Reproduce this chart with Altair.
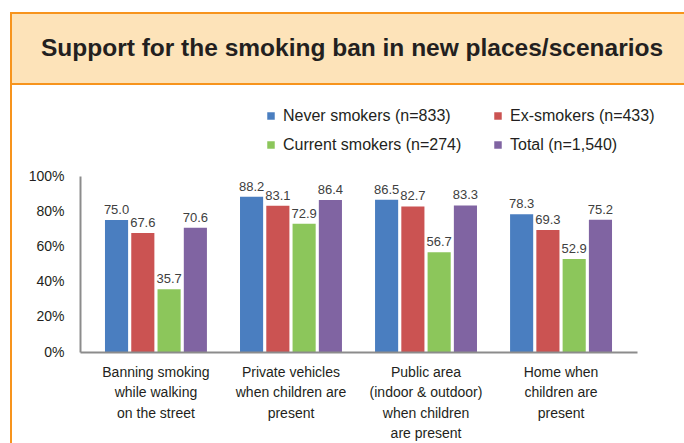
import altair as alt
import pandas as pd

categories = [
    "Banning smoking|while walking|on the street",
    "Private vehicles|when children are|present",
    "Public area|(indoor & outdoor)|when children|are present",
    "Home when|children are|present",
]
groups = ["Never smokers (n=833)", "Ex-smokers (n=433)", "Current smokers (n=274)", "Total (n=1,540)"]
colors = ["#4A7EC0", "#CB5352", "#8CC65B", "#8064A2"]

never = [75.0, 88.2, 86.5, 78.3]
ex = [67.6, 83.1, 82.7, 69.3]
current = [35.7, 72.9, 56.7, 52.9]
total = [70.6, 86.4, 83.3, 75.2]

title_text = "Support for the smoking ban in new places/scenarios"

rows = []
for series, vals in zip(groups, [never, ex, current, total]):
    for c, v in zip(categories, vals):
        rows.append({"category": c, "group": series, "value": v})
df = pd.DataFrame(rows)

one = pd.DataFrame({"k": [0]})

ORANGE = "#F7941D"
FONT = "Liberation Sans"

frame = alt.Chart(one).mark_rect(fill="transparent", stroke=ORANGE, strokeWidth=2).encode(
    x=alt.value(-69), x2=alt.value(700), y=alt.value(-163), y2=alt.value(400)
)
title_box = alt.Chart(one).mark_rect(fill="#FDE3B9", stroke=ORANGE, strokeWidth=2).encode(
    x=alt.value(-69), x2=alt.value(700), y=alt.value(-163), y2=alt.value(-92)
)
title = alt.Chart(one).mark_text(
    font=FONT, fontSize=24.5, fontWeight="bold", color="#231F20",
    align="center", baseline="middle"
).encode(x=alt.value(272), y=alt.value(-127), text=alt.value(title_text))

x_enc = alt.X(
    "category:N", sort=categories, title=None,
    scale=alt.Scale(paddingInner=0.245, paddingOuter=0.185),
    axis=alt.Axis(
        labelExpr="split(datum.label, '|')", labelAngle=0, labelFont=FONT,
        labelFontSize=14, labelColor="#231F20", labelLineHeight=20.5,
        labelPadding=13, ticks=False, domainColor="#8C8C8C", domainWidth=2,
        labelLimit=300, zindex=1,
    ),
)
xo_enc = alt.XOffset("group:N", sort=groups, scale=alt.Scale(paddingInner=0.12))
y_enc = alt.Y(
    "value:Q", title=None, scale=alt.Scale(domain=[0, 100]),
    axis=alt.Axis(
        values=[0, 20, 40, 60, 80, 100], labelExpr="datum.value + '%'",
        grid=False, ticks=False, domainColor="#8C8C8C", domainWidth=2,
        labelFont=FONT, labelFontSize=14, labelColor="#231F20",
        labelPadding=16, zindex=1,
    ),
)

bars = alt.Chart(df).mark_bar().encode(
    x=x_enc, xOffset=xo_enc, y=y_enc,
    color=alt.Color(
        "group:N", sort=groups, scale=alt.Scale(domain=groups, range=colors),
        legend=alt.Legend(
            title=None, orient="none", legendX=183, legendY=-68, columns=2,
            direction="horizontal",
            symbolType="square", symbolSize=56, symbolStrokeWidth=0,
            labelFont=FONT, labelFontSize=16, labelColor="#231F20",
            labelOffset=4, rowPadding=13, columnPadding=28, labelLimit=300,
        ),
    ),
)
labels = alt.Chart(df).mark_text(
    font=FONT, fontSize=13, color="#404040", baseline="bottom", dy=-3
).encode(x=x_enc, xOffset=xo_enc, y=y_enc, text=alt.Text("value:Q", format=".1f"))

chart = alt.layer(frame, title_box, title, bars, labels).properties(
    width=557, height=176,
    autosize=alt.AutoSizeParams(type="none"),
    padding={"left": 80, "top": 176, "right": 47, "bottom": 91},
    background="white",
).configure_view(stroke=None)

chart.save("out.html", embed_options={"renderer": "svg", "actions": False})
